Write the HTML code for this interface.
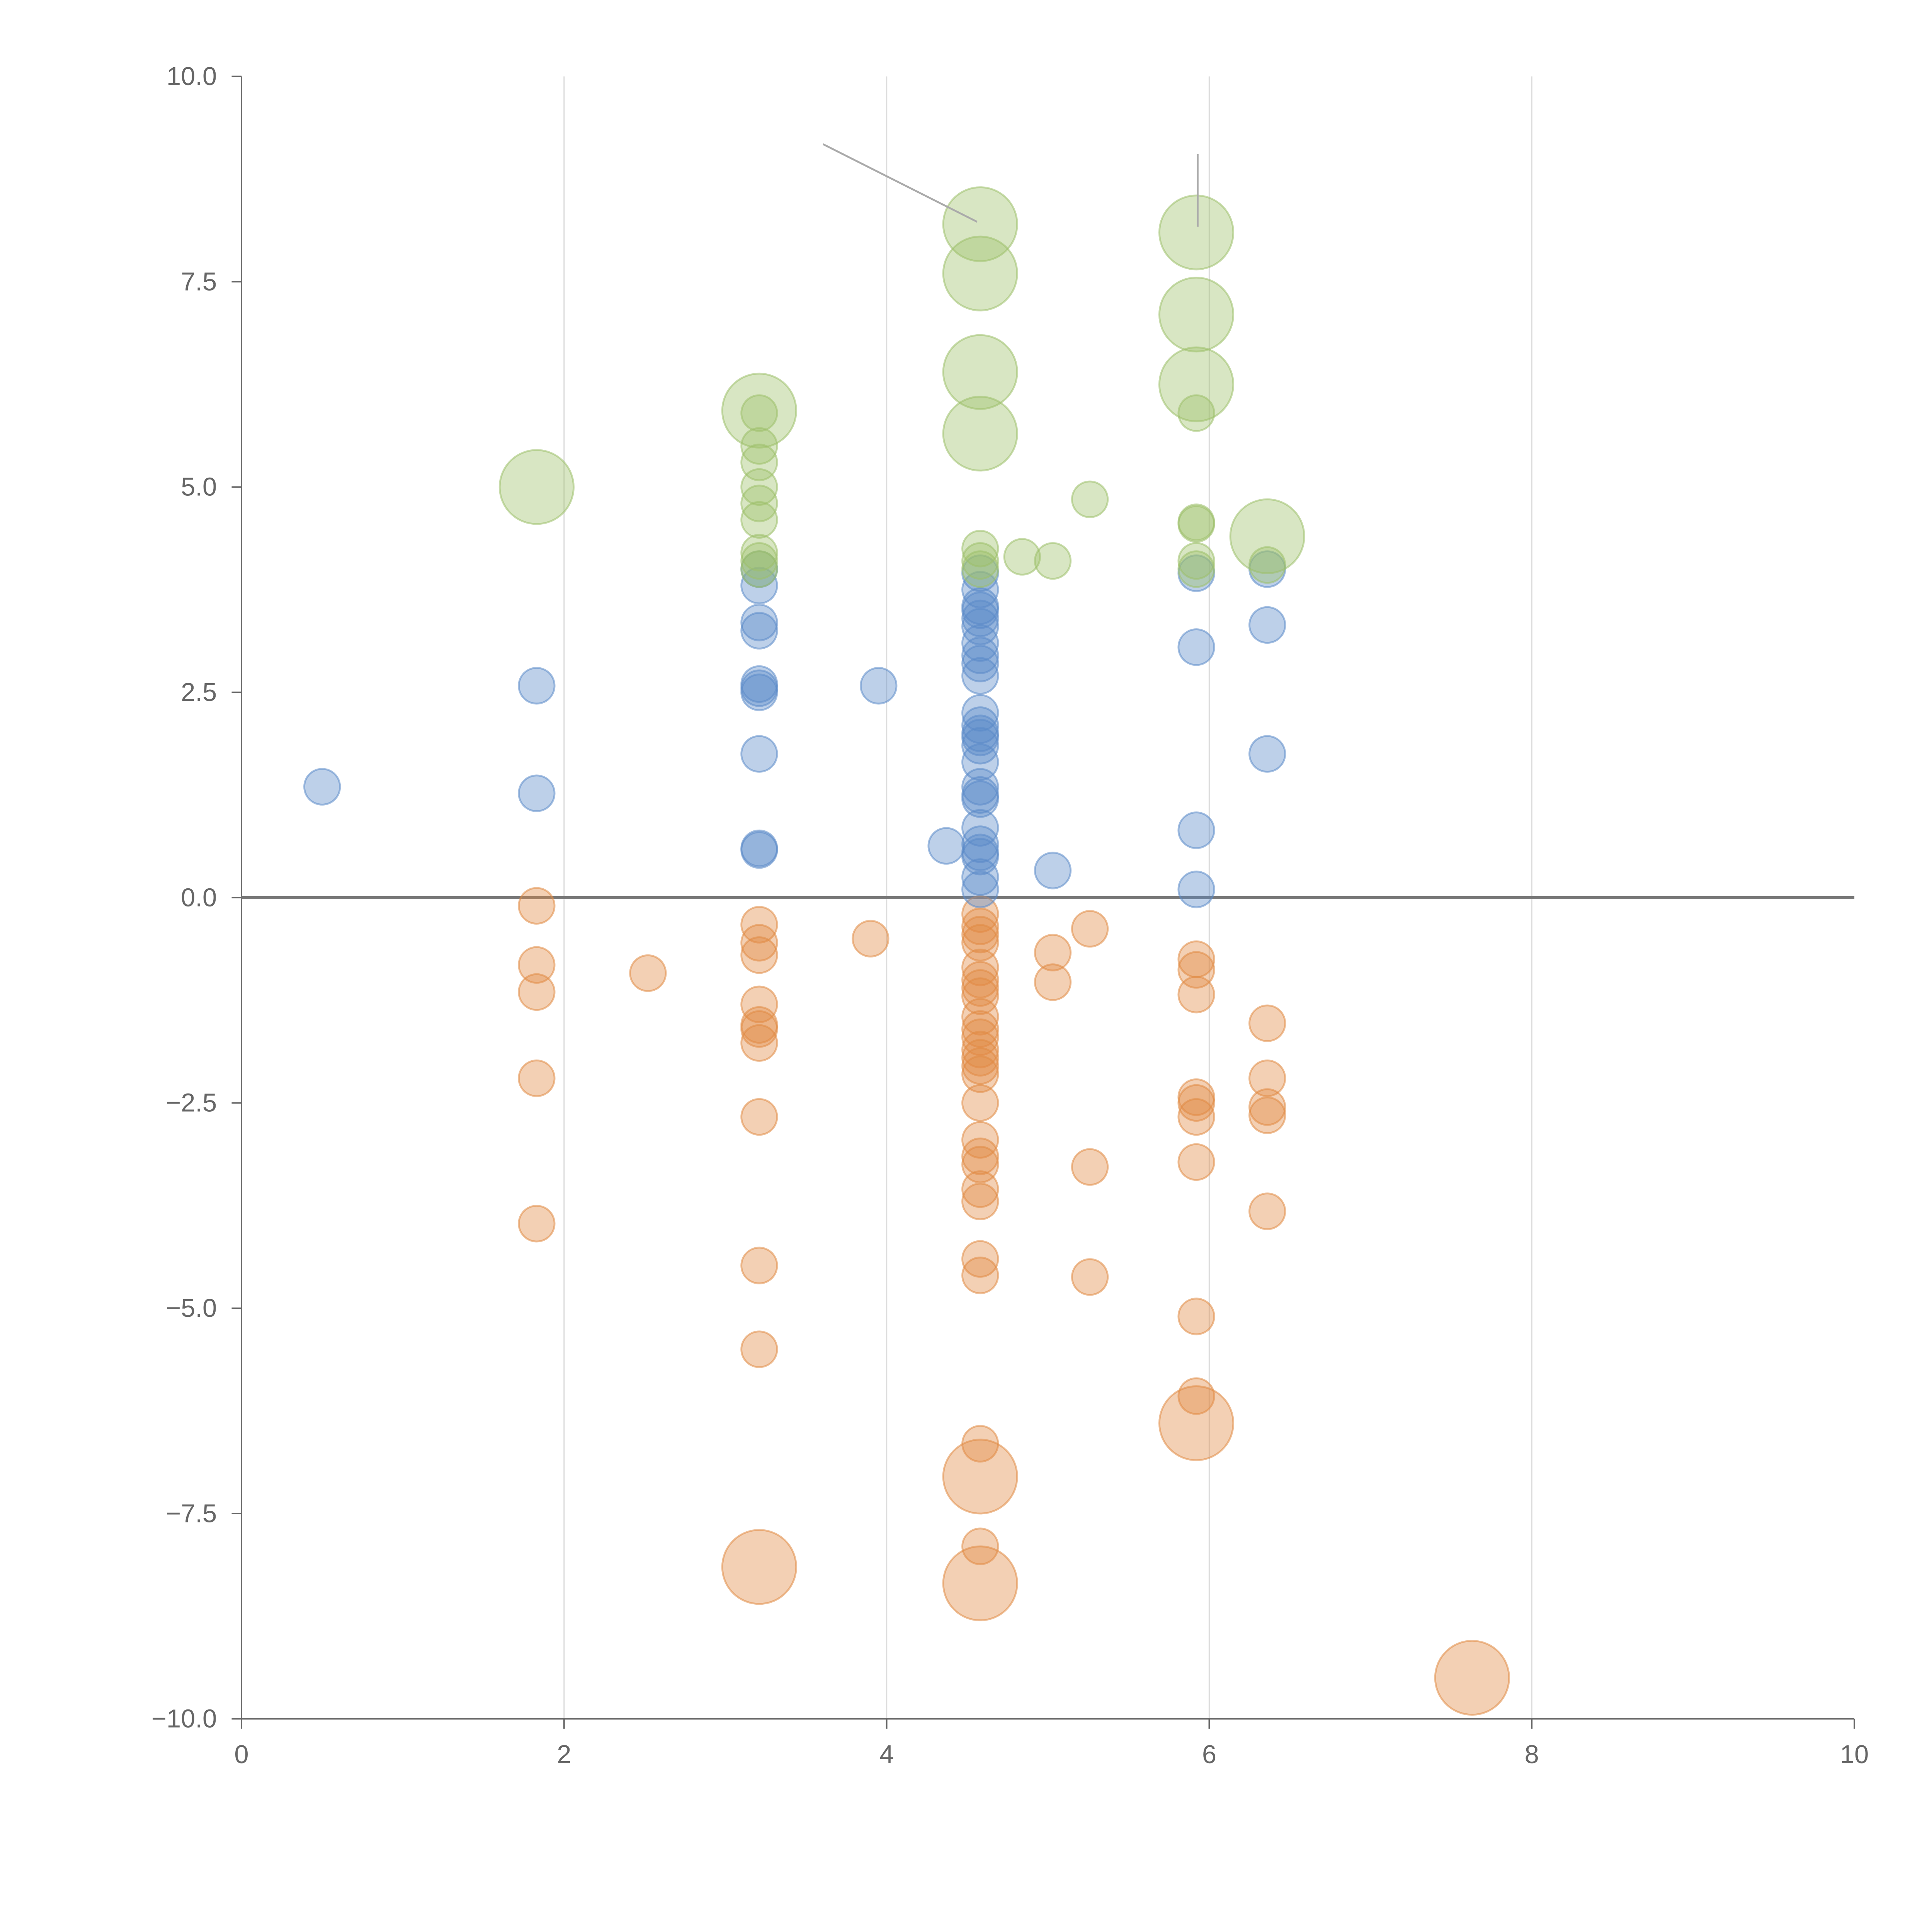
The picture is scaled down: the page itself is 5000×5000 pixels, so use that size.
<!DOCTYPE html>
<html><head><meta charset="utf-8"><style>
html,body{margin:0;padding:0;background:#fff;}
svg{display:block;}
text{font-family:"Liberation Sans",sans-serif;fill:#666;font-size:21px;}
</style></head><body>
<svg id="chart" width="5000" height="5000" viewBox="0 0 1568 1568" xmlns="http://www.w3.org/2000/svg">
<g id="grid"></g>
<g id="axes"></g>
<g id="points"></g>
<g id="annot">
<line x1="668" y1="117" x2="793" y2="180" stroke="#aaa" stroke-width="1.5"/>
<line x1="972" y1="125" x2="972" y2="184" stroke="#aaa" stroke-width="1.5"/>
</g>
</svg>
<script>
const xTicks=[0,2,4,6,8,10];
const yTicks=[10,7.5,5,2.5,0,-2.5,-5,-7.5,-10];
const yTickLabels=["10.0","7.5","5.0","2.5","0.0","\u22122.5","\u22125.0","\u22127.5","\u221210.0"];
// [x, y, size(0 small,1 large)]
const greenPts=[[1.83,5.0,1],[3.21,5.93,1],[3.21,5.9,0],[3.21,5.5,0],[3.21,5.3,0],[3.21,5.0,0],[3.21,4.8,0],[3.21,4.6,0],[3.21,4.2,0],[3.21,4.1,0],[3.21,4.0,0],
[4.58,8.2,1],[4.58,7.6,1],[4.58,6.4,1],[4.58,5.65,1],[4.58,4.25,0],[4.58,4.1,0],[4.58,4.0,0],[4.84,4.15,0],[5.03,4.1,0],[5.26,4.85,0],
[5.92,8.1,1],[5.92,7.1,1],[5.92,6.25,1],[5.92,5.9,0],[5.92,4.57,0],[5.92,4.55,0],[5.92,4.1,0],[5.92,4.0,0],[6.36,4.4,1],[6.36,4.05,0]];
const bluePts=[[0.5,1.35,0],[1.83,2.58,0],[1.83,1.27,0],[3.21,4.0,0],[3.21,3.8,0],[3.21,3.35,0],[3.21,3.25,0],[3.21,2.6,0],[3.21,2.55,0],[3.21,2.5,0],[3.21,1.75,0],[3.21,0.6,0],[3.21,0.58,0],
[3.95,2.58,0],[4.37,0.63,0],
[4.58,3.95,0],[4.58,3.75,0],[4.58,3.55,0],[4.58,3.5,0],[4.58,3.4,0],[4.58,3.3,0],[4.58,3.1,0],[4.58,2.95,0],[4.58,2.85,0],[4.58,2.7,0],[4.58,2.25,0],[4.58,2.1,0],[4.58,2.0,0],[4.58,1.95,0],[4.58,1.85,0],[4.58,1.65,0],[4.58,1.35,0],[4.58,1.25,0],[4.58,1.2,0],[4.58,0.85,0],[4.58,0.65,0],[4.58,0.55,0],[4.58,0.5,0],[4.58,0.25,0],[4.58,0.1,0],
[5.03,0.33,0],[5.92,3.95,0],[5.92,3.05,0],[5.92,0.82,0],[5.92,0.1,0],[6.36,4.0,0],[6.36,3.32,0],[6.36,1.75,0]];
const orangePts=[[1.83,-0.1,0],[1.83,-0.82,0],[1.83,-1.15,0],[1.83,-2.2,0],[1.83,-3.97,0],[2.52,-0.92,0],
[3.21,-0.33,0],[3.21,-0.55,0],[3.21,-0.7,0],[3.21,-1.3,0],[3.21,-1.55,0],[3.21,-1.6,0],[3.21,-1.77,0],[3.21,-2.67,0],[3.21,-4.48,0],[3.21,-5.5,0],[3.21,-8.15,1],
[3.9,-0.5,0],
[4.58,-0.2,0],[4.58,-0.35,0],[4.58,-0.45,0],[4.58,-0.55,0],[4.58,-0.85,0],[4.58,-1.0,0],[4.58,-1.1,0],[4.58,-1.2,0],[4.58,-1.45,0],[4.58,-1.6,0],[4.58,-1.7,0],[4.58,-1.85,0],[4.58,-1.95,0],[4.58,-2.05,0],[4.58,-2.15,0],[4.58,-2.5,0],[4.58,-2.95,0],[4.58,-3.15,0],[4.58,-3.25,0],[4.58,-3.55,0],[4.58,-3.7,0],[4.58,-4.4,0],[4.58,-4.6,0],[4.58,-6.65,0],[4.58,-7.9,0],[4.58,-7.05,1],[4.58,-8.35,1],
[5.03,-0.67,0],[5.03,-1.03,0],[5.26,-0.38,0],[5.26,-3.28,0],[5.26,-4.62,0],
[5.92,-0.75,0],[5.92,-0.88,0],[5.92,-1.18,0],[5.92,-2.43,0],[5.92,-2.5,0],[5.92,-2.67,0],[5.92,-3.22,0],[5.92,-5.1,0],[5.92,-6.07,0],[5.92,-6.4,1],
[6.36,-1.53,0],[6.36,-2.2,0],[6.36,-2.55,0],[6.36,-2.65,0],[6.36,-3.82,0],[7.63,-9.5,1]];

const NS="http://www.w3.org/2000/svg";
const X0=196,X1=1505,Y0=1395,Y1=62;
function sx(v){return X0+(v-0)/(10-0)*(X1-X0);}
function sy(v){return Y0-(v+10)/20*(Y0-Y1);}
function mk(tag,attrs,parent){const e=document.createElementNS(NS,tag);for(const k in attrs)e.setAttribute(k,attrs[k]);parent.appendChild(e);return e;}
const grid=document.getElementById('grid'),axes=document.getElementById('axes'),pts=document.getElementById('points');
xTicks.forEach(t=>{
  if(t>0&&t<10){const g=mk('line',{x1:sx(t),x2:sx(t),y1:Y1,y2:Y0,stroke:'#ddd','stroke-width':1},grid);
  
  }
  const tk=mk('line',{x1:sx(t),x2:sx(t),y1:Y0,y2:Y0+8,stroke:'#666','stroke-width':1.2},axes);
  
  
  const tx=mk('text',{x:sx(t),y:Y0+36,'text-anchor':'middle'},axes);tx.textContent=t;
  
  
});
yTicks.forEach((t,i)=>{
  const tk=mk('line',{x1:X0-8,x2:X0,y1:sy(t),y2:sy(t),stroke:'#666','stroke-width':1.2},axes);
  
  
  const tx=mk('text',{x:X0-20,y:sy(t)+7,'text-anchor':'end'},axes);tx.textContent=yTickLabels[i];
  
  
});
const ya=mk('line',{x1:X0,x2:X0,y1:Y1,y2:Y0,stroke:'#666','stroke-width':1.2},axes);


const xa=mk('line',{x1:X0,x2:X1,y1:Y0,y2:Y0,stroke:'#666','stroke-width':1.2},axes);


const zl=mk('line',{x1:X0,x2:X1,y1:sy(0),y2:sy(0),stroke:'#777','stroke-width':2.5},axes);


function draw(arr,color,name){arr.forEach(p=>{
  const c=mk('circle',{cx:sx(p[0]),cy:sy(p[1]),r:p[2]?30:14.5,fill:color,'fill-opacity':0.4,stroke:color,'stroke-opacity':0.55,'stroke-width':1.5},pts);
  
  
});}
draw(orangePts,'#e08a44','orange-bubble');
draw(bluePts,'#5b8ac9','blue-bubble');
draw(greenPts,'#9dc06a','green-bubble');
</script>
</body></html>
